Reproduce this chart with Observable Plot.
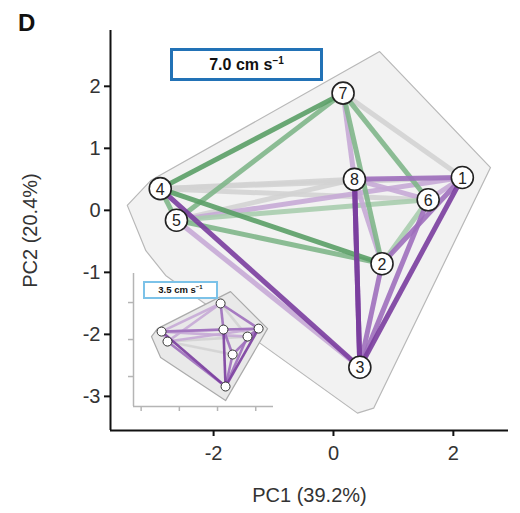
<!DOCTYPE html>
<html><head><meta charset="utf-8">
<script src="https://cdn.jsdelivr.net/npm/d3@7"></script>
<script src="https://cdn.jsdelivr.net/npm/@observablehq/plot@0.6"></script>
<style>
body{margin:0;background:#fff;}
#wrap{position:relative;width:520px;height:513px;font-family:"Liberation Sans",Arial,sans-serif;color:#111;}
#wrap svg{position:absolute;left:0;top:0;}
#wrap svg.inset{left:120px;top:262px;}
.panel{position:absolute;left:18px;top:11px;font-weight:bold;font-size:24px;line-height:24px;}
.speed{position:absolute;box-sizing:border-box;background:#fff;text-align:center;font-weight:bold;white-space:nowrap;}
.speed sup{line-height:0;}
</style></head><body><div id="wrap"></div>
<script>
// ---- data: main condition (7.0 cm/s)
const nodeIds = [1, 2, 3, 4, 5, 6, 7, 8];
const pc1 = [2.15, 0.81, 0.44, -2.89, -2.62, 1.58, 0.16, 0.35];
const pc2 = [0.53, -0.86, -2.53, 0.35, -0.16, 0.17, 1.89, 0.50];
const hullPc1 = [0.77, 2.62, 0.67, 0.40, -2.80, -3.13, -3.44, -3.05];
const hullPc2 = [2.56, 0.69, -3.19, -3.27, -1.05, -0.65, 0.08, 0.48];
const edgeFrom = [7, 4, 4, 4, 5, 7, 5, 6, 7, 8, 5, 5, 8, 8, 1, 5, 7, 7, 4, 6, 2, 1, 8, 7, 4, 4, 1, 8];
const edgeTo   = [1, 8, 1, 6, 8, 8, 1, 2, 6, 6, 6, 3, 2, 1, 6, 2, 5, 2, 5, 3, 3, 2, 3, 4, 2, 3, 3, 3];
const edgeTone = ["gray","gray","gray","gray","gray","lpurple","lpurple","lgreen","mgreen","lpurple","lgreen","lpurple","lpurple","mpurple","lpurple","mgreen","mgreen","mgreen","mgreen","mpurple","mpurple","mpurple","dpurple","dgreen","dgreen","dpurple","dpurple","dpurple"];

// ---- data: inset condition (3.5 cm/s)
const insetPc1 = [2.15, 0.79, 0.42, -2.93, -2.62, 1.57, 0.16, 0.31];
const insetPc2 = [0.59, -0.81, -2.54, 0.43, -0.11, 0.16, 1.95, 0.54];
const insetHullPc1 = [0.68, 2.62, 0.42, -2.98, -3.46, -3.14];
const insetHullPc2 = [2.59, 0.59, -3.30, -0.97, 0.16, 0.59];
const insetFrom = [7, 5, 5, 4, 4, 7, 4, 5, 7, 7, 8, 1, 4, 5, 8, 6, 2, 1, 7, 4, 8, 1];
const insetTo   = [6, 2, 6, 1, 6, 4, 5, 1, 5, 1, 1, 6, 8, 3, 2, 3, 3, 2, 8, 3, 3, 3];
const insetTone = ["gray","gray","gray","lpurple","lpurple","lpurple","lpurple","lpurple","lpurple","mpurple","mpurple","mpurple","mpurple","mpurple","mpurple","mpurple","mpurple","mpurple","mpurple","dpurple","dpurple","dpurple"];

const toneNames = ["gray","lgreen","mgreen","dgreen","lpurple","mpurple","dpurple"];
const xTicks = [-2, 0, 2];
const yTicks = [-3, -2, -1, 0, 1, 2];
const insetXTicks = [-4, -2, 0, 2];
const insetYTicks = [-2, 0, 2];

// ---- build tables
const nodes = nodeIds.map((id, i) => ({id, x: pc1[i], y: pc2[i]}));
const hull = hullPc1.map((x, i) => ({x, y: hullPc2[i]}));
const edges = edgeFrom.map((a, i) => ({a, b: edgeTo[i], tone: edgeTone[i]}));
const iNodes = nodeIds.map((id, i) => ({id, x: insetPc1[i], y: insetPc2[i]}));
const iHull = insetHullPc1.map((x, i) => ({x, y: insetHullPc2[i]}));
const iEdges = insetFrom.map((a, i) => ({a, b: insetTo[i], tone: insetTone[i]}));

const toneColors = ["#d3d3d3", "#a8cdae", "#7fb689", "#5a9e66", "#c6aad6", "#9e6fbd", "#7a3d9e"];
const FONT = '"Liberation Sans", Arial, sans-serif';
const xDom = [-3.72, 2.92], yDom = [-3.55, 2.9];
const fmt = d => String(d);

const main = Plot.plot({
  width: 520, height: 513,
  marginLeft: 110, marginRight: 12, marginTop: 30, marginBottom: 83,
  x: {domain: xDom}, y: {domain: yDom},
  color: {domain: toneNames, range: toneColors},
  style: {fontFamily: FONT, fontSize: "20px", color: "#333", background: "transparent"},
  marks: [
    Plot.line(hull, {x: "x", y: "y", curve: "linear-closed", fill: "#f2f2f2", stroke: "#b8b8b8", strokeWidth: 1.2}),
    Plot.link(edges, {
      x1: d => pc1[d.a - 1], y1: d => pc2[d.a - 1],
      x2: d => pc1[d.b - 1], y2: d => pc2[d.b - 1],
      stroke: "tone", strokeWidth: 5, strokeOpacity: 0.9, strokeLinecap: "butt"
    }),
    Plot.dot(nodes, {x: "x", y: "y", r: 11, fill: "white", stroke: "#222", strokeWidth: 1.6}),
    Plot.text(nodes, {x: "x", y: "y", text: "id", fontSize: 16, fill: "#222", dy: 1}),
    Plot.ruleX([xDom[0]], {stroke: "#111", strokeWidth: 2}),
    Plot.ruleY([yDom[0]], {stroke: "#111", strokeWidth: 2}),
    Plot.axisX({ticks: xTicks, tickFormat: fmt, tickSize: 6, tickPadding: 9, strokeWidth: 2, stroke: "#111", fill: "#333",
      label: "PC1 (39.2%)", labelAnchor: "center", labelArrow: "none", labelOffset: 71}),
    Plot.axisY({ticks: yTicks, tickFormat: fmt, tickSize: 6, tickPadding: 4, strokeWidth: 2, stroke: "#111", fill: "#333",
      label: "PC2 (20.4%)", labelAnchor: "center", labelArrow: "none", labelOffset: 88})
  ]
});

const iXDom = [-4.4, 2.93], iYDom = [-3.62, 3.57];
const inset = Plot.plot({
  width: 165, height: 154,
  marginLeft: 13, marginRight: 12, marginTop: 11, marginBottom: 10,
  x: {domain: iXDom}, y: {domain: iYDom},
  color: {domain: toneNames, range: toneColors},
  style: {background: "transparent"},
  marks: [
    Plot.line(iHull, {x: "x", y: "y", curve: "linear-closed", fill: "#e9e9e9", stroke: "#aaaaaa", strokeWidth: 1.2}),
    Plot.link(iEdges, {
      x1: d => insetPc1[d.a - 1], y1: d => insetPc2[d.a - 1],
      x2: d => insetPc1[d.b - 1], y2: d => insetPc2[d.b - 1],
      stroke: "tone", strokeWidth: 2.6, strokeOpacity: 0.9
    }),
    Plot.dot(iNodes, {x: "x", y: "y", r: 4.5, fill: "white", stroke: "#333", strokeWidth: 1}),
    Plot.ruleX([iXDom[0]], {stroke: "#b5b5b5", strokeWidth: 1.5}),
    Plot.ruleY([iYDom[0]], {stroke: "#b5b5b5", strokeWidth: 1.5}),
    Plot.axisX({ticks: insetXTicks, tickSize: 5, tickFormat: () => "", stroke: "#b5b5b5", strokeWidth: 1.5, label: null}),
    Plot.axisY({ticks: insetYTicks, tickSize: 5, tickFormat: () => "", stroke: "#b5b5b5", strokeWidth: 1.5, label: null})
  ]
});
inset.classList.add("inset");

const wrap = document.getElementById("wrap");
wrap.appendChild(main);
wrap.appendChild(inset);

const panel = document.createElement("div");
panel.className = "panel"; panel.textContent = "D";
wrap.appendChild(panel);

function speedBox(text, left, top, w, h, border, color, fs) {
  const d = document.createElement("div");
  d.className = "speed";
  Object.assign(d.style, {left: left + "px", top: top + "px", width: w + "px", height: h + "px",
    border: border + "px solid " + color, fontSize: fs + "px", lineHeight: (h - 2 * border) + "px"});
  d.innerHTML = text + ' s<sup style="font-size:' + Math.round(fs * 0.6) + 'px">−1</sup>';
  wrap.appendChild(d);
}
speedBox("7.0 cm", 170, 48, 153, 33, 3, "#2272b6", 16);
speedBox("3.5 cm", 143, 281, 75, 18, 2, "#7cc2e8", 9.5);
</script></body></html>
